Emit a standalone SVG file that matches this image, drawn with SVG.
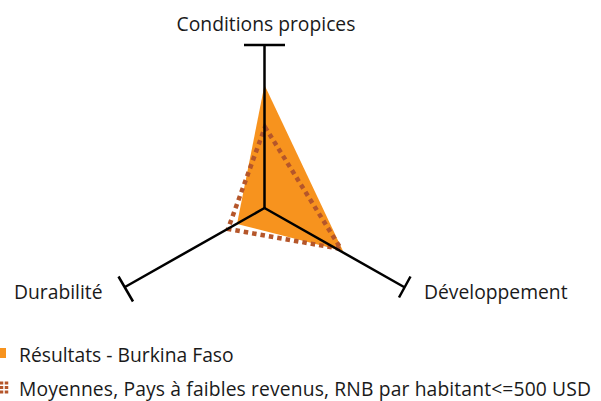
<svg xmlns="http://www.w3.org/2000/svg" width="601" height="401" viewBox="0 0 601 401">
<style>
text{font-family:"Open Sans","Noto Sans",sans-serif;font-size:19.3px;fill:#1a1a1a}
.axis{stroke:#000;stroke-width:2.5;fill:none}
.dot{stroke:#b5562a;stroke-width:4.5;stroke-dasharray:4.5 4;fill:none}
</style>
<rect width="601" height="401" fill="#fff"/>
<g id="series-burkina"><polygon points="264.5,85 343,251 237,224" fill="#f7931e"/></g>
<g id="series-moyennes"><polygon class="dot" points="265,127 341,249 228,229"/></g>
<g id="connectors">
<path class="axis" d="M264.5,208 V45 M244,45 H285"/>
<path class="axis" d="M264.5,208 L125,287 M118.5,276.5 L133,301.5"/>
<path class="axis" d="M264.5,208 L404,287 M410.5,276.5 L399,297.5"/>
</g>
<g id="label-conditions"><text x="266" y="31" text-anchor="middle">Conditions propices</text></g>
<g id="label-durabilite"><text x="14" y="299">Durabilité</text></g>
<g id="label-developpement"><text x="424" y="299">Développement</text></g>
<g id="legend">
<rect x="0" y="348" width="6" height="10" fill="#f7931e"/>
<text x="19" y="362">Résultats - Burkina Faso</text>
<path d="M1.5,381.5 V393.5 M6.5,381.5 V393.5" stroke="#b5562a" stroke-width="3.5" stroke-dasharray="3 1.5"/>
<text x="19" y="396" textLength="572" lengthAdjust="spacing">Moyennes, Pays à faibles revenus, RNB par habitant&lt;=500 USD</text>
</g>
</svg>
